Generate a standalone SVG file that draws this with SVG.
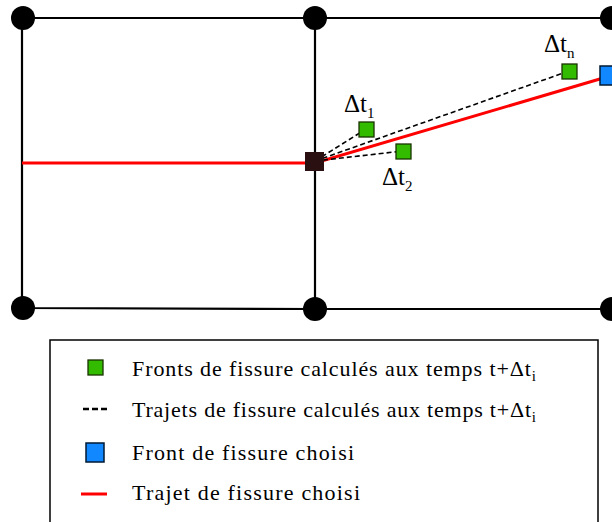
<svg xmlns="http://www.w3.org/2000/svg" width="612" height="522" viewBox="0 0 612 522">
<style>
.edge{stroke:#000;stroke-width:2.2;fill:none}
.dash{stroke:#000;stroke-width:1.6;stroke-dasharray:5,3;fill:none}
.red{stroke:#ff0000;stroke-width:3;fill:none}
.green{fill:#33bb00;stroke:#1a3300;stroke-width:1.3}
.blue{fill:#1188ff;stroke:#001a33;stroke-width:1.5}
.dot{fill:#000}
.lbl{font-size:25px}
.sub{font-size:15px}
.leg{font-size:22px}
</style>
<rect width="612" height="522" fill="#fff"/>
<g id="grid">
<path class="edge" d="M23,18 H612 M23,308 L315,309 H612 M22,18 V308 M315,18 V309"/>
</g>
<g id="connectors">
<path class="red" d="M22,163 H315 L610,76"/>
<path class="dash" d="M315,161 L366,129"/>
<path class="dash" d="M315,161 L403,151"/>
<path class="dash" d="M315,161 L569,71"/>
</g>
<g id="nodes">
<circle id="n1" class="dot" cx="23" cy="18" r="12"/>
<circle id="n2" class="dot" cx="315" cy="18" r="12"/>
<circle id="n3" class="dot" cx="612" cy="18" r="12"/>
<circle id="n4" class="dot" cx="23" cy="308" r="12"/>
<circle id="n5" class="dot" cx="315" cy="309" r="12"/>
<circle id="n6" class="dot" cx="612" cy="309" r="12"/>
</g>
<g id="crack-tip"><rect x="305" y="152" width="19" height="19" fill="#2a1010"/></g>
<g id="f1"><rect class="green" x="359" y="122" width="15" height="15"/></g>
<g id="f2"><rect class="green" x="396" y="144" width="15" height="15"/></g>
<g id="fn"><rect class="green" x="562" y="64" width="15" height="15"/></g>
<g id="chosen"><rect class="blue" x="600" y="66" width="18" height="19"/></g>
<g id="labels" font-family="'Liberation Serif', 'DejaVu Serif', serif" fill="#000">
<text class="lbl" x="344" y="112">Δt<tspan class="sub" dy="6">1</tspan></text>
<text class="lbl" x="382" y="185">Δt<tspan class="sub" dy="6">2</tspan></text>
<text class="lbl" x="544" y="52">Δt<tspan class="sub" dy="6">n</tspan></text>
</g>
<g id="legend" font-family="'Liberation Serif', 'DejaVu Serif', serif" fill="#000">
<rect x="50" y="340" width="548" height="190" fill="none" stroke="#000" stroke-width="1.5"/>
<rect class="green" x="88" y="360" width="15" height="15"/>
<text class="leg" x="132" y="376" textLength="404">Fronts de fissure calculés aux temps t+Δt<tspan class="sub" dy="5">i</tspan></text>
<path d="M83,409 H108" stroke="#000" stroke-width="2.5" stroke-dasharray="6,3"/>
<text class="leg" x="132" y="417" textLength="404">Trajets de fissure calculés aux temps t+Δt<tspan class="sub" dy="5">i</tspan></text>
<rect class="blue" x="86" y="443" width="18" height="19"/>
<text class="leg" x="132" y="460" textLength="222">Front de fissure choisi</text>
<path class="red" d="M81,494 H107"/>
<text class="leg" x="132" y="500" textLength="228">Trajet de fissure choisi</text>
</g>
</svg>
